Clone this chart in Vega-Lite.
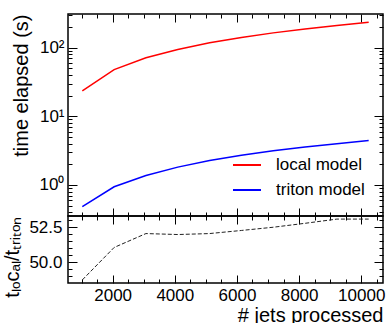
{
  "$schema": "https://vega.github.io/schema/vega-lite/v6.json",
  "padding": {"left": 2, "top": 12, "right": 2, "bottom": 2},
  "spacing": 0,
  "bounds": "flush",
  "resolve": {"scale": {"color": "independent"}, "legend": {"color": "independent"}},
  "config": {
    "font": "Liberation Sans",
    "view": {"stroke": "black", "strokeWidth": 1.5},
    "axis": {
      "labelFont": "Liberation Sans", "titleFont": "Liberation Sans",
      "labelFontSize": 17, "titleFontSize": 20, "titleFontWeight": "normal",
      "labelColor": "black", "titleColor": "black", "tickColor": "black",
      "domain": false, "grid": false, "tickWidth": 1
    },
    "legend": {"labelFont": "Liberation Sans", "labelFontSize": 17, "labelColor": "black"}
  },
  "datasets": {
    "times": [
      {"jets": 1024, "model": "local model", "time": 23.5},
      {"jets": 2048, "model": "local model", "time": 48},
      {"jets": 3072, "model": "local model", "time": 71.5},
      {"jets": 4096, "model": "local model", "time": 94.5},
      {"jets": 5120, "model": "local model", "time": 118},
      {"jets": 6144, "model": "local model", "time": 141.5},
      {"jets": 7168, "model": "local model", "time": 165},
      {"jets": 8192, "model": "local model", "time": 188.5},
      {"jets": 9216, "model": "local model", "time": 212},
      {"jets": 10240, "model": "local model", "time": 236},
      {"jets": 1024, "model": "triton model", "time": 0.482},
      {"jets": 2048, "model": "triton model", "time": 0.94},
      {"jets": 3072, "model": "triton model", "time": 1.374},
      {"jets": 4096, "model": "triton model", "time": 1.818},
      {"jets": 5120, "model": "triton model", "time": 2.267},
      {"jets": 6144, "model": "triton model", "time": 2.707},
      {"jets": 7168, "model": "triton model", "time": 3.143},
      {"jets": 8192, "model": "triton model", "time": 3.571},
      {"jets": 9216, "model": "triton model", "time": 3.994},
      {"jets": 10240, "model": "triton model", "time": 4.446}
    ],
    "ratio": [
      {"jets": 1024, "ratio": 48.75},
      {"jets": 2048, "ratio": 51.06},
      {"jets": 3072, "ratio": 52.05},
      {"jets": 4096, "ratio": 51.98},
      {"jets": 5120, "ratio": 52.05},
      {"jets": 6144, "ratio": 52.27},
      {"jets": 7168, "ratio": 52.5},
      {"jets": 8192, "ratio": 52.78},
      {"jets": 9216, "ratio": 53.08},
      {"jets": 10240, "ratio": 53.08}
    ]
  },
  "vconcat": [
    {
      "width": 315,
      "height": 202,
      "data": {"name": "times"},
      "resolve": {"axis": {"x": "independent", "y": "independent"}},
      "layer": [
        {
          "mark": {"type": "line", "strokeWidth": 1.5},
          "encoding": {
            "x": {"field": "jets", "type": "quantitative",
              "scale": {"domain": [563.2, 10700.8], "nice": false, "zero": false},
              "axis": {"orient": "bottom", "values": [2000, 4000, 6000, 8000, 10000], "labels": false, "tickSize": -8, "title": null}},
            "y": {"field": "time", "type": "quantitative",
              "scale": {"type": "log", "domain": [0.352, 311], "nice": false},
              "axis": {"orient": "left", "values": [1, 10, 100], "tickSize": -9, "labelPadding": 13,
                "labelExpr": "datum.value == 1 ? '10⁰' : datum.value == 10 ? '10¹' : '10²'",
                "title": "time elapsed (s)", "titleAnchor": "end", "titlePadding": 8}},
            "color": {"field": "model", "type": "nominal",
              "scale": {"domain": ["local model", "triton model"], "range": ["#ff0000", "#0000ff"]},
              "legend": {"title": null, "orient": "bottom-right", "symbolType": "stroke", "symbolStrokeWidth": 2,
                "symbolSize": 784, "labelOffset": 14, "rowPadding": 2, "offset": 14, "padding": 4}}
          }
        },
        {
          "mark": {"type": "line", "opacity": 0},
          "encoding": {
            "x": {"field": "jets", "type": "quantitative",
              "axis": {"orient": "top", "values": [2000, 4000, 6000, 8000, 10000], "labels": false, "tickSize": -8, "title": null}},
            "y": {"field": "time", "type": "quantitative",
              "axis": {"orient": "right", "values": [1, 10, 100], "labels": false, "tickSize": -9, "title": null}}
          }
        },
        {
          "mark": {"type": "line", "opacity": 0},
          "encoding": {
            "x": {"field": "jets", "type": "quantitative",
              "axis": {"orient": "bottom", "values": [1000, 1500, 2500, 3000, 3500, 4500, 5000, 5500, 6500, 7000, 7500, 8500, 9000, 9500, 10500], "labels": false, "tickSize": -4, "title": null}},
            "y": {"field": "time", "type": "quantitative",
              "axis": {"orient": "left", "values": [0.4, 0.5, 0.6, 0.7, 0.8, 0.9, 2, 3, 4, 5, 6, 7, 8, 9, 20, 30, 40, 50, 60, 70, 80, 90, 200, 300], "labels": false, "tickSize": -4, "title": null}}
          }
        },
        {
          "mark": {"type": "line", "opacity": 0},
          "encoding": {
            "x": {"field": "jets", "type": "quantitative",
              "axis": {"orient": "top", "values": [1000, 1500, 2500, 3000, 3500, 4500, 5000, 5500, 6500, 7000, 7500, 8500, 9000, 9500, 10500], "labels": false, "tickSize": -4, "title": null}},
            "y": {"field": "time", "type": "quantitative",
              "axis": {"orient": "right", "values": [0.4, 0.5, 0.6, 0.7, 0.8, 0.9, 2, 3, 4, 5, 6, 7, 8, 9, 20, 30, 40, 50, 60, 70, 80, 90, 200, 300], "labels": false, "tickSize": -4, "title": null}}
          }
        }
      ]
    },
    {
      "width": 315,
      "height": 67,
      "data": {"name": "ratio"},
      "resolve": {"axis": {"x": "independent", "y": "independent"}},
      "layer": [
        {
          "mark": {"type": "line", "strokeWidth": 1, "color": "#222222", "strokeDash": [4, 2]},
          "encoding": {
            "x": {"field": "jets", "type": "quantitative",
              "scale": {"domain": [563.2, 10700.8], "nice": false, "zero": false},
              "axis": {"orient": "bottom", "values": [2000, 4000, 6000, 8000, 10000], "format": "d", "tickSize": -8, "labelPadding": 12,
                "title": "# jets processed", "titleAnchor": "end", "titlePadding": 2}},
            "y": {"field": "ratio", "type": "quantitative",
              "scale": {"domain": [48.53, 53.3], "nice": false, "zero": false},
              "axis": {"orient": "left", "values": [50, 52.5], "format": ".1f", "tickSize": -9, "labelPadding": 15,
                "title": "tₗₒcₐₗ/tₜᵣᵢₜₒₙ", "titleAnchor": "end", "titlePadding": 6}}
          }
        },
        {
          "mark": {"type": "line", "opacity": 0},
          "encoding": {
            "x": {"field": "jets", "type": "quantitative",
              "axis": {"orient": "top", "values": [2000, 4000, 6000, 8000, 10000], "labels": false, "tickSize": -8, "title": null}},
            "y": {"field": "ratio", "type": "quantitative",
              "axis": {"orient": "right", "values": [50, 52.5], "labels": false, "tickSize": -9, "title": null}}
          }
        },
        {
          "mark": {"type": "line", "opacity": 0},
          "encoding": {
            "x": {"field": "jets", "type": "quantitative",
              "axis": {"orient": "bottom", "values": [1000, 1500, 2500, 3000, 3500, 4500, 5000, 5500, 6500, 7000, 7500, 8500, 9000, 9500, 10500], "labels": false, "tickSize": -4, "title": null}},
            "y": {"field": "ratio", "type": "quantitative",
              "axis": {"orient": "left", "values": [48.5, 49, 49.5, 50.5, 51, 51.5, 52, 53], "labels": false, "tickSize": -4, "title": null}}
          }
        },
        {
          "mark": {"type": "line", "opacity": 0},
          "encoding": {
            "x": {"field": "jets", "type": "quantitative",
              "axis": {"orient": "top", "values": [1000, 1500, 2500, 3000, 3500, 4500, 5000, 5500, 6500, 7000, 7500, 8500, 9000, 9500, 10500], "labels": false, "tickSize": -4, "title": null}},
            "y": {"field": "ratio", "type": "quantitative",
              "axis": {"orient": "right", "values": [48.5, 49, 49.5, 50.5, 51, 51.5, 52, 53], "labels": false, "tickSize": -4, "title": null}}
          }
        }
      ]
    }
  ]
}
